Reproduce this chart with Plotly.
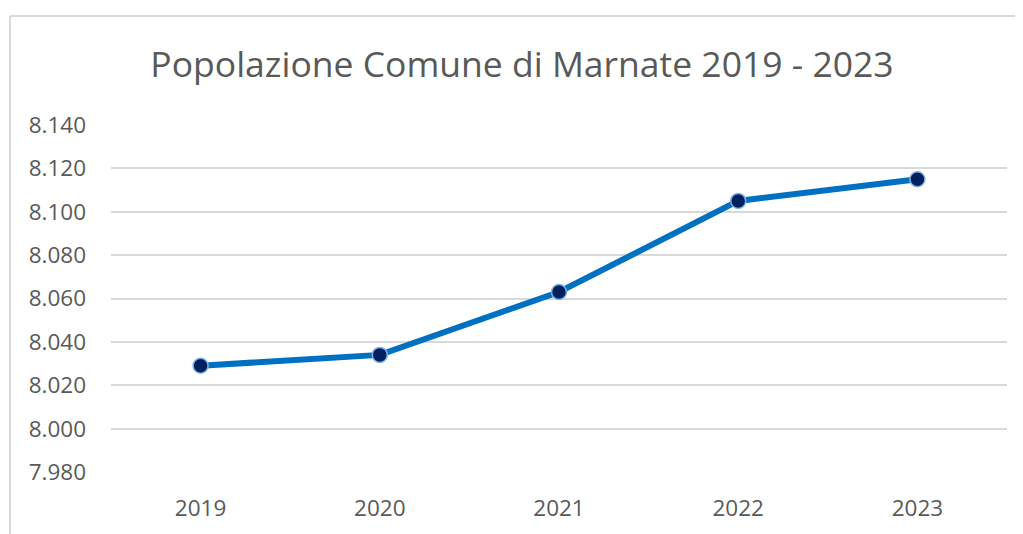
import plotly.graph_objects as go

years = ["2019", "2020", "2021", "2022", "2023"]
population = [8029, 8034, 8063, 8105, 8115]
y_ticks = [7980, 8000, 8020, 8040, 8060, 8080, 8100, 8120, 8140]
y_tick_labels = ["7.980", "8.000", "8.020", "8.040", "8.060", "8.080", "8.100", "8.120", "8.140"]
title_text = "Popolazione Comune di Marnate 2019 - 2023"

FONT = "Open Sans"
TXT = "#595959"

fig = go.Figure()
fig.add_trace(go.Scatter(
    x=years, y=population, mode="lines+markers",
    line=dict(color="#0070c0", width=6),
    marker=dict(size=15, color="#002060", line=dict(color="#7fb2e0", width=1.5)),
    hoverinfo="x+y", showlegend=False,
))

# page body has an 8px margin; design in figure coordinates
OFF = 8
W, H = 1023, 534 - OFF
L, T = 111 - OFF, 125 - OFF
R = W - (1007 - OFF)
B = H - (472 - OFF)
pw, ph = W - L - R, H - T - B

def px(x):
    return (x - OFF - L) / pw

def py(y):
    return (H - B - (y - OFF)) / ph

fig.update_layout(
    width=W, height=H,
    margin=dict(l=L, r=R, t=T, b=B),
    paper_bgcolor="white", plot_bgcolor="white",
    font=dict(family=FONT, color=TXT),
    title=dict(text=title_text, x=(522 - OFF) / W, xanchor="center", y=1 - (65 - OFF) / H,
               yanchor="middle", yref="container", xref="container",
               font=dict(family=FONT, size=35.5, color=TXT)),
    xaxis=dict(type="category", range=[-0.5, 4.5], showgrid=False, zeroline=False, showline=False,
               tickfont=dict(family=FONT, size=22.5, color=TXT), ticks="", ticklabelstandoff=20),
    yaxis=dict(range=[7980, 8140], tickvals=y_ticks, ticktext=y_tick_labels, showgrid=True,
               gridcolor="#d9d9d9", gridwidth=2, zeroline=False, showline=False, ticks="",
               tickfont=dict(family=FONT, size=22.5, color=TXT), ticklabelstandoff=24),
    shapes=[
        dict(type="line", xref="paper", yref="paper", x0=px(10), x1=px(1040), y0=py(16), y1=py(16),
             line=dict(color="#d9d9d9", width=2)),
        dict(type="line", xref="paper", yref="paper", x0=px(10), x1=px(10), y0=py(16), y1=py(560),
             line=dict(color="#d9d9d9", width=2)),
    ],
)

fig.write_html("out.html")
